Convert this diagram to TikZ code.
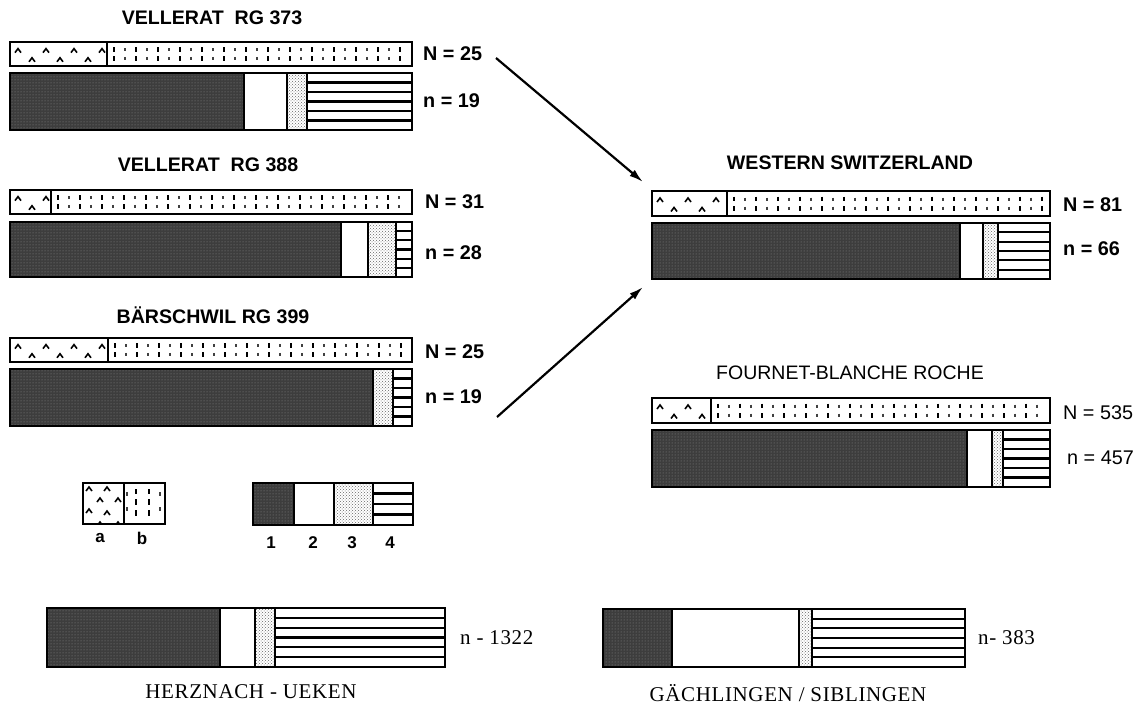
\documentclass[tikz,border=0pt]{standalone}
\usepackage{fontspec}
\setmainfont{Liberation Sans}
\newfontfamily\serifb[LetterSpace=3]{Liberation Serif}
\usetikzlibrary{patterns,arrows.meta}
\tikzset{
  barframe/.style={draw=black,line width=2.4pt},
  darkfill/.style={fill=black!76},
  darkdots/.style={pattern=dots,pattern color=black!45},
  stipple/.style={pattern=crosshatch dots,pattern color=black!60},
  stripe/.style={draw=black,line width=2.2pt},
  sepline/.style={draw=black,line width=2pt},
  caret/.style={draw=black,line width=1.6pt},
  tickm/.style={draw=black,line width=2pt},
  tickl/.style={draw=black!75,line width=1.5pt},
  title/.style={font=\fontsize{19.6}{21}\selectfont\bfseries,inner sep=0pt},
  titler/.style={font=\fontsize{19.5}{21}\selectfont,inner sep=0pt},
  lab/.style={font=\fontsize{19.8}{21}\selectfont\bfseries,inner sep=0pt,anchor=west},
  labr/.style={font=\fontsize{19.8}{21}\selectfont,inner sep=0pt,anchor=west},
  serlab/.style={font=\fontsize{21}{23}\selectfont\serifb,inner sep=0pt},
  leglab/.style={font=\fontsize{17}{19}\selectfont\bfseries,inner sep=0pt},
  arr/.style={line width=2.2pt,-{Latex[length=14pt,width=8pt]}}
}
% segmented bar: x1 y1 x2 y2 dark-end white-end stipple-end bands
\newcommand{\segbar}[8]{%
  \fill[darkfill] (#1,#2) rectangle (#5,#4);
  \path[darkdots] (#1,#2) rectangle (#5,#4);
  \path[stipple] (#6,#2) rectangle (#7,#4);
  \pgfmathsetmacro\bandh{(#4-#2)/#8}%
  \pgfmathtruncatemacro\nlines{#8-1}%
  \foreach \i in {1,...,\nlines}{\draw[stripe] (#7,{#2+\i*\bandh}) -- (#3,{#2+\i*\bandh});}
  \draw[sepline] (#5,#2) -- (#5,#4) (#6,#2) -- (#6,#4) (#7,#2) -- (#7,#4);
  \draw[barframe] (#1,#2) rectangle (#3,#4);
}
% a/b bar: x1 y1 x2 y2 split
\newcommand{\abbar}[5]{%
  \pgfmathsetmacro\hgt{#4-#2}%
  \pgfmathsetmacro\yup{#2+0.36*\hgt}%
  \pgfmathsetmacro\ylo{#2+0.74*\hgt}%
  \pgfmathsetmacro\xa{#1+8}\pgfmathsetmacro\xb{#1+36}%
  \pgfmathsetmacro\xc{#1+22}\pgfmathsetmacro\xd{#1+50}%
  \begin{scope}
    \clip (#1,#2) rectangle (#5,#4);
    \foreach \x in {\xa,\xb,...,#5}{\draw[caret] ({\x-3},{\yup+2}) -- (\x,{\yup-2}) -- ({\x+3},{\yup+2});}
    \foreach \x in {\xc,\xd,...,#5}{\draw[caret] ({\x-3},{\ylo+2}) -- (\x,{\ylo-2}) -- ({\x+3},{\ylo+2});}
  \end{scope}
  \pgfmathsetmacro\ta{#5+7}\pgfmathsetmacro\tb{#5+29}\pgfmathsetmacro\tend{#3-3}%
  \pgfmathsetmacro\sa{#5+18}\pgfmathsetmacro\sb{#5+40}%
  \foreach \x in {\ta,\tb,...,\tend}{\draw[tickm] (\x,{#2+0.22*\hgt}) -- (\x,{#2+0.4*\hgt}) (\x,{#2+0.6*\hgt}) -- (\x,{#2+0.78*\hgt});}
  \foreach \x in {\sa,\sb,...,\tend}{\draw[tickl] (\x,{#2+0.26*\hgt}) -- (\x,{#2+0.38*\hgt}) (\x,{#2+0.62*\hgt}) -- (\x,{#2+0.74*\hgt});}
  \draw[sepline] (#5,#2) -- (#5,#4);
  \draw[barframe] (#1,#2) rectangle (#3,#4);
}
\begin{document}
\begin{tikzpicture}[x=1pt,y=-1pt]
\useasboundingbox[fill=white] (0,0) rectangle (1138,704);

% Vellerat RG 373
\node[title] (t1) at (212,18) {VELLERAT\ \ RG 373};
\abbar{10}{42}{412}{66}{107}
\segbar{10}{73}{412}{130}{244}{287}{307}{6}
\node[lab] (N1) at (423,54) {N = 25};
\node[lab] (n1) at (423,101) {n = 19};

% Vellerat RG 388
\node[title] (t2) at (208,165) {VELLERAT\ \ RG 388};
\abbar{10}{190}{412}{214}{51}
\segbar{10}{222}{412}{277}{341}{368}{396}{6}
\node[lab] (N2) at (425,202) {N = 31};
\node[lab] (n2) at (425,253) {n = 28};

% Baerschwil RG 399
\node[title] (t3) at (213,315) {BÄRSCHWIL RG 399};
\abbar{10}{338}{412}{362}{108}
\segbar{10}{369}{412}{426}{373}{373}{393}{6}
\node[lab] (N3) at (425,352) {N = 25};
\node[lab] (n3) at (425,397) {n = 19};

% Western Switzerland
\node[title] (t4) at (850,163) {WESTERN SWITZERLAND};
\abbar{652}{191}{1050}{216}{727}
\segbar{652}{223}{1050}{279}{960}{983}{998}{6}
\node[lab] (N4) at (1063,205) {N = 81};
\node[lab] (n4) at (1063,249) {n = 66};

% Fournet-Blanche Roche
\node[titler] (t5) at (850,373) {FOURNET-BLANCHE ROCHE};
\abbar{652}{398}{1050}{423}{711}
\segbar{652}{430}{1050}{487}{967}{992}{1003}{6}
\node[labr] (N5) at (1063,413) {N = 535};
\node[labr] (n5) at (1067,458) {n = 457};

% arrows
\coordinate (s1) at (496,58);
\coordinate (e1) at (643,182);
\coordinate (s2) at (497,417);
\coordinate (e2) at (643,287);
\draw[arr] (s1) -- (e1);
\draw[arr] (s2) -- (e2);

% legend a/b
\begin{scope}
  \clip (83,483) rectangle (124,524);
  \foreach \x/\y in {89/489,107/489,100/500,118/500,89/511,107/513,100/524,118/524}
    {\draw[caret] ({\x-3},{\y+2}) -- (\x,{\y-2}) -- ({\x+3},{\y+2});}
\end{scope}
\foreach \x in {136,149}{\draw[tickm] (\x,489) -- (\x,494) (\x,499) -- (\x,505) (\x,510) -- (\x,516);}
\foreach \x in {127,160}{\draw[tickl] (\x,492) -- (\x,496) (\x,507) -- (\x,511);}
\draw[sepline] (124,483) -- (124,524);
\draw[barframe] (83,483) rectangle (165,524);
\node[leglab] (la) at (100,538) {a};
\node[leglab] (lb) at (142,538) {b};

% legend 1-4
\segbar{253}{483}{413}{525}{294}{334}{373}{4}
\node[leglab] (l1) at (271,543) {1};
\node[leglab] (l2) at (313,543) {2};
\node[leglab] (l3) at (352,543) {3};
\node[leglab] (l4) at (390,543) {4};

% Herznach - Ueken
\segbar{47}{608}{445}{667}{220}{255}{275}{6}
\node[serlab,anchor=west] (n6) at (460,638) {n - 1322};
\node[serlab] (t6) at (251,692) {HERZNACH - UEKEN};

% Gaechlingen / Siblingen
\segbar{603}{609}{965}{667}{672}{799}{812}{6}
\node[serlab,anchor=west] (n7) at (978,638) {n- 383};
\node[serlab] (t7) at (788,693) {GÄCHLINGEN / SIBLINGEN};
\end{tikzpicture}
\end{document}
